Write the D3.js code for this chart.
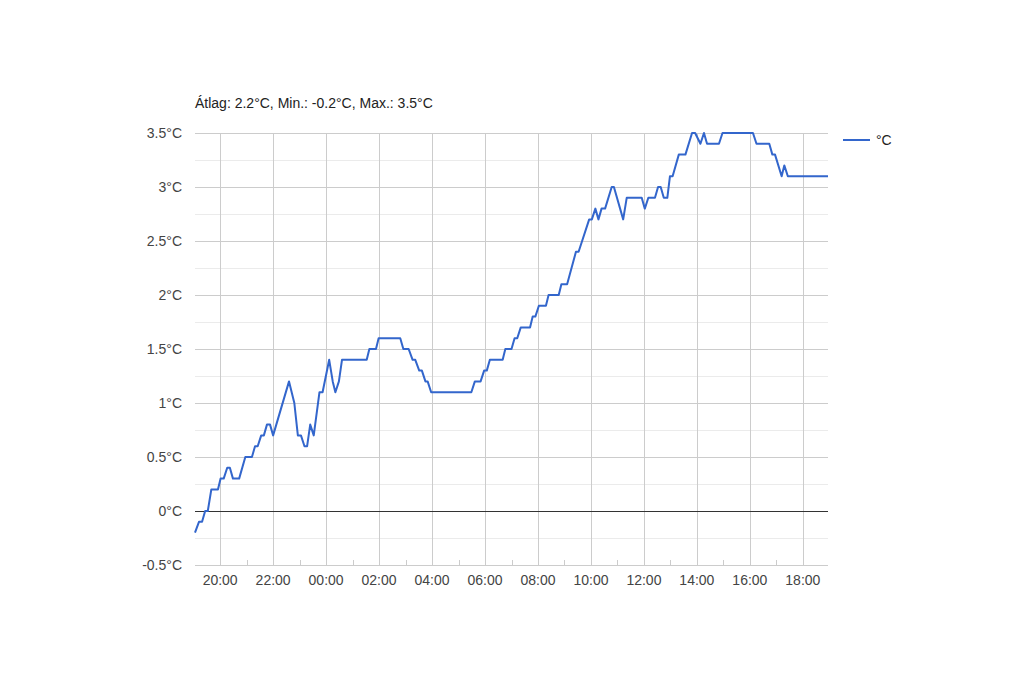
<!DOCTYPE html>
<html><head><meta charset="utf-8">
<script src="https://cdn.jsdelivr.net/npm/d3@7"></script>
<style>body{margin:0;background:#fff;font-family:Arial,"Liberation Sans",sans-serif;}</style>
</head><body><svg id="c" width="1024" height="699"></svg>
<script>
const titleText = "Átlag: 2.2°C, Min.: -0.2°C, Max.: 3.5°C";
const seriesName = "°C";
const times = ["19:03","19:12","19:19","19:26","19:32","19:40","19:55","20:01","20:08","20:16","20:22","20:29","20:43","20:57","21:12","21:19","21:25","21:33","21:39","21:46","21:53","22:00","22:36","22:48","22:56","23:03","23:11","23:17","23:24","23:32","23:45","23:52","+00:07","+00:15","+00:21","+00:29","+00:36","+01:32","+01:38","+01:53","+01:59","+02:48","+02:55","+03:07","+03:16","+03:22","+03:31","+03:37","+03:45","+03:50","+03:58","+05:29","+05:37","+05:50","+05:58","+06:04","+06:11","+06:40","+06:46","+07:00","+07:07","+07:13","+07:21","+07:42","+07:48","+07:54","+08:02","+08:18","+08:24","+08:47","+08:53","+09:06","+09:26","+09:32","+09:56","+10:02","+10:10","+10:17","+10:24","+10:32","+10:47","+10:52","+11:13","+11:21","+11:55","+12:02","+12:10","+12:25","+12:32","+12:38","+12:45","+12:53","+12:59","+13:05","+13:19","+13:34","+13:49","+13:56","+14:08","+14:16","+14:23","+14:50","+14:58","+16:07","+16:15","+16:44","+16:51","+16:57","+17:12","+17:18","+17:26","+18:57"];
const temps = [-0.2,-0.1,-0.1,0,0,0.2,0.2,0.3,0.3,0.4,0.4,0.3,0.3,0.5,0.5,0.6,0.6,0.7,0.7,0.8,0.8,0.7,1.2,1.0,0.7,0.7,0.6,0.6,0.8,0.7,1.1,1.1,1.4,1.2,1.1,1.2,1.4,1.4,1.5,1.5,1.6,1.6,1.5,1.5,1.4,1.4,1.3,1.3,1.2,1.2,1.1,1.1,1.2,1.2,1.3,1.3,1.4,1.4,1.5,1.5,1.6,1.6,1.7,1.7,1.8,1.8,1.9,1.9,2.0,2.0,2.1,2.1,2.4,2.4,2.7,2.7,2.8,2.7,2.8,2.8,3.0,3.0,2.7,2.9,2.9,2.8,2.9,2.9,3.0,3.0,2.9,2.9,3.1,3.1,3.3,3.3,3.5,3.5,3.4,3.5,3.4,3.4,3.5,3.5,3.4,3.4,3.3,3.3,3.1,3.2,3.1,3.1];
const yTicks = [-0.5,0,0.5,1,1.5,2,2.5,3,3.5];
const yTickLabels = ["-0.5°C","0°C","0.5°C","1°C","1.5°C","2°C","2.5°C","3°C","3.5°C"];
const yMinorTicks = [-0.25,0.25,0.75,1.25,1.75,2.25,2.75,3.25];
const xTickLabels = ["20:00","22:00","00:00","02:00","04:00","06:00","08:00","10:00","12:00","14:00","16:00","18:00"];

function parseT(s){
  let day = 1;
  if (s[0]==="+"){ day = 2; s = s.slice(1); }
  const [h,m] = s.split(":").map(Number);
  return new Date(2024,0,day,h,m);
}
const data = times.map((t,i)=>({t:parseT(t), v:temps[i]}));

const L=195,R=828,T=133,B=565;
const FS = 14;
const svg = d3.select("#c");
const x = d3.scaleTime().domain(d3.extent(data,d=>d.t)).range([L,R]);
const y = d3.scaleLinear().domain([-0.5,3.5]).range([B,T]);

// minor horizontal
svg.append("g").selectAll("line").data(yMinorTicks).join("line")
  .attr("x1",L).attr("x2",R).attr("y1",d=>Math.round(y(d))+0.5).attr("y2",d=>Math.round(y(d))+0.5)
  .attr("stroke","#ebebeb");
// major horizontal
svg.append("g").selectAll("line").data(yTicks.filter(d=>d!==0)).join("line")
  .attr("x1",L).attr("x2",R).attr("y1",d=>Math.round(y(d))+0.5).attr("y2",d=>Math.round(y(d))+0.5)
  .attr("stroke","#cccccc");

// vertical gridlines
const hourTicks = x.ticks(d3.timeHour.every(1));
const majorTicks = hourTicks.filter(d=>d.getHours()%2===0);
const minorTicks = hourTicks.filter(d=>d.getHours()%2===1);
svg.append("g").selectAll("line").data(majorTicks).join("line")
  .attr("x1",d=>Math.round(x(d))+0.5).attr("x2",d=>Math.round(x(d))+0.5)
  .attr("y1",T).attr("y2",B).attr("stroke","#cccccc");
svg.append("g").selectAll("line").data(minorTicks).join("line")
  .attr("x1",d=>Math.round(x(d))+0.5).attr("x2",d=>Math.round(x(d))+0.5)
  .attr("y1",B-5).attr("y2",B).attr("stroke","#cccccc");

// zero line
svg.append("line").attr("x1",L).attr("x2",R)
  .attr("y1",Math.round(y(0))+0.5).attr("y2",Math.round(y(0))+0.5).attr("stroke","#333");

// y labels
svg.append("g").selectAll("text").data(yTicks).join("text")
  .attr("x",L-13).attr("y",d=>y(d)+5).attr("text-anchor","end")
  .attr("font-size",FS).attr("fill","#444").text((d,i)=>yTickLabels[i]);

// x labels
svg.append("g").selectAll("text").data(majorTicks).join("text")
  .attr("x",d=>x(d)).attr("y",B+20).attr("text-anchor","middle")
  .attr("font-size",FS).attr("fill","#444")
  .text((d,i)=>xTickLabels[i] || d3.timeFormat("%H:%M")(d));

// line
svg.append("path").datum(data)
  .attr("d", d3.line().x(d=>x(d.t)).y(d=>y(d.v)))
  .attr("fill","none").attr("stroke","#3366cc").attr("stroke-width",2)
  .attr("stroke-linejoin","round");

// title
svg.append("text").attr("x",L).attr("y",108).attr("font-size",FS).attr("fill","#222").text(titleText);

// legend
svg.append("line").attr("x1",843).attr("x2",870).attr("y1",140).attr("y2",140)
  .attr("stroke","#3366cc").attr("stroke-width",2);
svg.append("text").attr("x",876).attr("y",145).attr("font-size",FS).attr("fill","#222").text(seriesName);
</script></body></html>
